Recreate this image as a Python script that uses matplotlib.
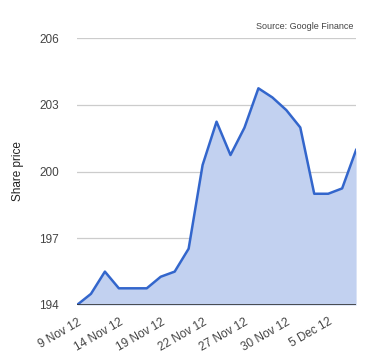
import matplotlib
matplotlib.use("Agg")
from matplotlib import pyplot as plt

plt.rcParams['font.family'] = ['Liberation Sans', 'DejaVu Sans']

# Share price, daily closes
dates = ["9 Nov 12", "12 Nov 12", "13 Nov 12", "14 Nov 12", "15 Nov 12", "16 Nov 12",
         "19 Nov 12", "20 Nov 12", "21 Nov 12", "22 Nov 12", "23 Nov 12", "26 Nov 12",
         "27 Nov 12", "28 Nov 12", "29 Nov 12", "30 Nov 12", "3 Dec 12", "4 Dec 12",
         "5 Dec 12", "6 Dec 12", "7 Dec 12"]
prices = [194.0, 194.5, 195.5, 194.75, 194.75, 194.75, 195.27, 195.5, 196.53, 200.29,
          202.24, 200.74, 201.97, 203.74, 203.33, 202.76, 201.98, 199.0, 199.0, 199.24,
          200.97]
tick_idx = [0, 3, 6, 9, 12, 15, 18]
yticks = [194, 197, 200, 203, 206]

fig = plt.figure(figsize=(3.8, 3.6), dpi=100)
ax = fig.add_axes([0.2026, 0.1528, 0.7345, 0.7416])

x = list(range(len(prices)))
ax.fill_between(x, 194, prices, color="#c2d1f0", linewidth=0, zorder=2)
ax.plot(x, prices, color="#3366cc", linewidth=1.8, zorder=3)

ax.set_xlim(0, len(prices) - 1)
ax.set_ylim(194, 206)
ax.set_yticks(yticks)
ax.grid(axis="y", color="#cccccc", linewidth=0.9, zorder=1)
ax.axhline(194, color="#333333", linewidth=1.2, zorder=4)

ax.set_xticks(tick_idx)
ax.set_xticklabels([dates[i] for i in tick_idx], rotation=30, ha="right",
                   rotation_mode="anchor")
ax.tick_params(axis="both", length=0, labelsize=8.5, colors="#444444")
ax.tick_params(axis="y", pad=13)
ax.tick_params(axis="x", pad=8)

for s in ax.spines.values():
    s.set_visible(False)

ax.set_ylabel("Share price", fontsize=8.5, color="#222222", labelpad=11)
fig.text(0.93, 0.915, "Source: Google Finance", ha="right", va="bottom",
         fontsize=6.5, color="#444444")

fig.savefig("out.png", dpi=100)
